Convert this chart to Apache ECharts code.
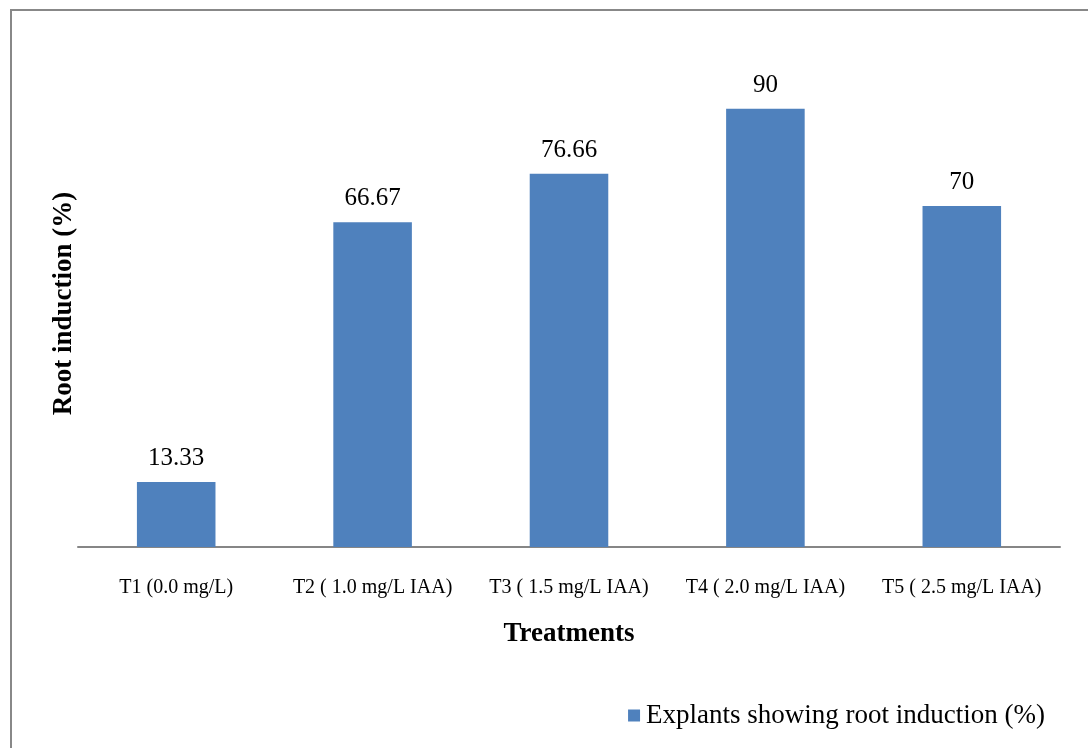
<!DOCTYPE html>
<html><head><meta charset="utf-8">
<script src="https://cdn.jsdelivr.net/npm/echarts@6/dist/echarts.min.js"></script>
<style>html,body{margin:0;padding:0;background:#fff}#c{width:1088px;height:748px}</style>
</head><body><div id="c"></div>
<script>
const categories = ['T1 (0.0 mg/L)', 'T2 ( 1.0 mg/L IAA)', 'T3 ( 1.5 mg/L IAA)', 'T4 ( 2.0 mg/L IAA)', 'T5 ( 2.5 mg/L IAA)'];
const values = [13.33, 66.67, 76.66, 90, 70];
const seriesName = 'Explants showing root induction (%)';
const xTitle = 'Treatments';
const yTitle = 'Root induction (%)';

const font = '"Liberation Serif", "Times New Roman", serif';
const chart = echarts.init(document.getElementById('c'), null, {renderer: 'canvas'});
chart.setOption({
  animation: false,
  backgroundColor: '#fff',
  graphic: [{
    type: 'rect', shape: {x: 11, y: 10, width: 1200, height: 900},
    style: {fill: 'none', stroke: '#888888', lineWidth: 2}, silent: true
  }],
  grid: {left: 78, right: 28, top: 60, bottom: 201},
  legend: {
    data: [seriesName], right: 38, top: 697, itemWidth: 12, itemHeight: 12, itemGap: 6,
    icon: 'rect',
    textStyle: {fontFamily: font, fontSize: 27, color: '#000', padding: [0,0,0,1]}
  },
  xAxis: {
    type: 'category', data: categories,
    axisLine: {lineStyle: {color: '#868686', width: 2}},
    axisTick: {show: false},
    axisLabel: {fontFamily: font, fontSize: 20, color: '#000', margin: 31, interval: 0},
    name: xTitle, nameLocation: 'middle', nameGap: 74,
    nameTextStyle: {fontFamily: font, fontSize: 27, fontWeight: 'bold', color: '#000'}
  },
  yAxis: {
    type: 'value', min: 0, max: 100,
    axisLine: {show: false}, axisTick: {show: false}, axisLabel: {show: false},
    splitLine: {show: false},
    name: yTitle, nameLocation: 'middle', nameGap: 0, nameRotate: 90,
    nameTextStyle: {fontFamily: font, fontSize: 27, fontWeight: 'bold', color: '#000'}
  },
  series: [{
    name: seriesName, type: 'bar', data: values, barWidth: '40%',
    itemStyle: {color: '#4F81BD'},
    label: {show: true, position: 'top', distance: 11, fontFamily: font, fontSize: 25, color: '#000'}
  }]
});
</script></body></html>
